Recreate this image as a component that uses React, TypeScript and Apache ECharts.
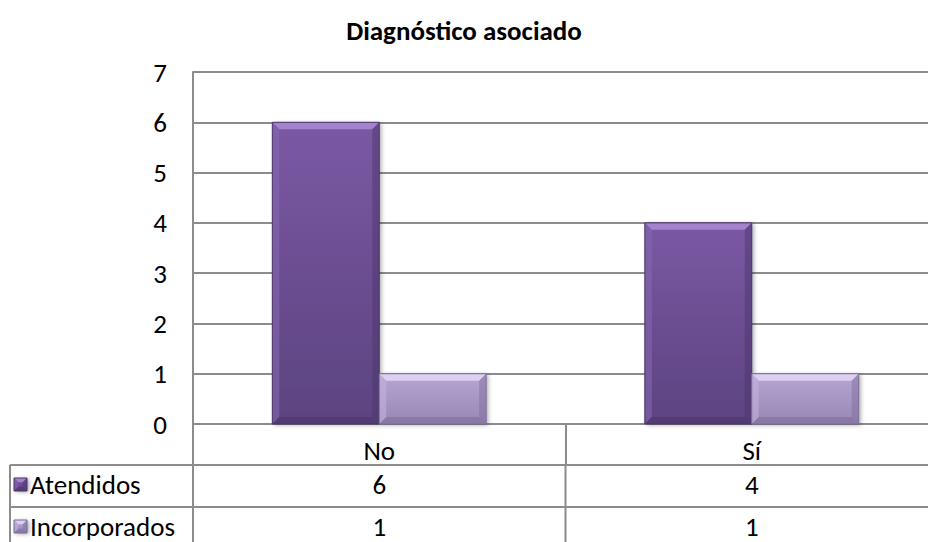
import React, { useEffect, useRef } from "react";
import * as echarts from "echarts";

const title = "Diagnóstico asociado";
const categories = ["No", "Sí"];
const seriesNames = ["Atendidos", "Incorporados"];
const atendidos = [6, 4];
const incorporados = [1, 1];
const yTicks = [0, 1, 2, 3, 4, 5, 6, 7];

const FONT = "Carlito, Calibri, Lato, sans-serif";
const FS = 27;
const W = 928;
const H = 542;
const GRID_LEFT = 193;
const GRID_TOP = 72;
const GRID_BOTTOM_Y = 424;
const GRID_RIGHT_X = 938;
const ROW1_Y = 465;
const ROW2_Y = 507;
const ROW3_Y = 549;
const TABLE_LEFT = 10;
const LINE = "#8c8c8c";

const BAR_FRAC = 0.287;
const BEVEL = 7;

type Palette = { top: string; bottom: string; hi: string; side: string; dark: string };
const palettes: Palette[] = [
  { top: "#7b58a4", bottom: "#5c4380", hi: "#a283cc", side: "#8666b0", dark: "#4a3568" },
  { top: "#b7a6d3", bottom: "#9886b4", hi: "#dccff0", side: "#c2b3dc", dark: "#7d6c98" },
];

function bevelBar(pal: Palette, x0: number, x1: number, top: number, base: number) {
  const b = Math.min(BEVEL, (base - top) / 3, (x1 - x0) / 3);
  const face = new echarts.graphic.LinearGradient(0, 0, 0, 1, [
    { offset: 0, color: pal.top },
    { offset: 1, color: pal.bottom },
  ]);
  return {
    type: "group",
    children: [
      {
        type: "rect",
        shape: { x: x0, y: top, width: x1 - x0, height: base - top },
        style: {
          fill: face,
          shadowColor: "rgba(0,0,0,0.35)",
          shadowBlur: 4,
          shadowOffsetX: 2,
          shadowOffsetY: 1,
        },
      },
      {
        type: "polygon",
        shape: { points: [[x0, top], [x1, top], [x1 - b, top + b], [x0 + b, top + b]] },
        style: { fill: pal.hi },
      },
      {
        type: "polygon",
        shape: { points: [[x0, top], [x0 + b, top + b], [x0 + b, base - b], [x0, base]] },
        style: { fill: pal.side, opacity: 0.6 },
      },
      {
        type: "polygon",
        shape: { points: [[x1, top], [x1, base], [x1 - b, base - b], [x1 - b, top + b]] },
        style: { fill: pal.dark, opacity: 0.45 },
      },
      {
        type: "polygon",
        shape: { points: [[x0, base], [x1, base], [x1 - b, base - b], [x0 + b, base - b]] },
        style: { fill: pal.dark, opacity: 0.55 },
      },
      {
        type: "rect",
        shape: { x: x0, y: top, width: x1 - x0, height: base - top },
        style: { fill: "none", stroke: pal.dark, lineWidth: 1 },
      },
    ],
  };
}

function makeRenderItem(seriesIdx: number) {
  return (params: any, api: any) => {
    const cat = api.value(0);
    const val = api.value(1);
    const [cx, top] = api.coord([cat, val]);
    const base = api.coord([cat, 0])[1];
    const bw = api.size([1, 0])[0] * BAR_FRAC;
    const x0 = seriesIdx === 0 ? cx - bw : cx;
    return bevelBar(palettes[seriesIdx], x0, x0 + bw, top, base);
  };
}

function marker(pal: Palette, x: number, y: number) {
  return bevelBar(pal, x, x + 13, y, y + 13);
}

export default function App() {
  const ref = useRef<HTMLDivElement>(null);

  useEffect(() => {
    if (!ref.current) return;
    const chart = echarts.init(ref.current, undefined, { renderer: "svg" });

    const colW = (GRID_RIGHT_X - GRID_LEFT) / categories.length;
    const rows = [
      { name: seriesNames[0], values: atendidos, pal: palettes[0], y0: ROW1_Y, y1: ROW2_Y },
      { name: seriesNames[1], values: incorporados, pal: palettes[1], y0: ROW2_Y, y1: ROW3_Y },
    ];

    const graphics: any[] = [];
    // data table rules
    [ROW1_Y, ROW2_Y].forEach((y) =>
      graphics.push({
        type: "line",
        shape: { x1: TABLE_LEFT, y1: y, x2: W + 10, y2: y },
        style: { stroke: LINE, lineWidth: 2 },
      })
    );
    graphics.push({
      type: "line",
      shape: { x1: TABLE_LEFT, y1: ROW1_Y, x2: TABLE_LEFT, y2: H + 10 },
      style: { stroke: LINE, lineWidth: 2 },
    });
    for (let i = 0; i < categories.length; i++) {
      const x = GRID_LEFT + colW * i;
      graphics.push({
        type: "line",
        shape: { x1: x, y1: ROW1_Y, x2: x, y2: H + 10 },
        style: { stroke: LINE, lineWidth: 2 },
      });
    }
    rows.forEach((r) => {
      const cy = (r.y0 + r.y1) / 2 - 2;
      graphics.push(marker(r.pal, 14, cy - 6));
      graphics.push({
        type: "text",
        x: 30,
        y: cy,
        style: {
          text: r.name,
          font: `${FS}px ${FONT}`,
          fill: "#000",
          textVerticalAlign: "middle",
          textAlign: "left",
        },
      });
      r.values.forEach((v, i) => {
        graphics.push({
          type: "text",
          x: GRID_LEFT + colW * (i + 0.5),
          y: cy,
          style: {
            text: String(v),
            font: `${FS}px ${FONT}`,
            fill: "#000",
            textAlign: "center",
            textVerticalAlign: "middle",
          },
        });
      });
    });

    chart.setOption({
      animation: false,
      backgroundColor: "#fff",
      title: {
        text: title,
        left: "center",
        top: 12,
        textStyle: { fontFamily: FONT, fontSize: FS, fontWeight: "bold", color: "#000" },
      },
      grid: {
        left: GRID_LEFT,
        top: GRID_TOP,
        width: GRID_RIGHT_X - GRID_LEFT,
        height: GRID_BOTTOM_Y - GRID_TOP,
        containLabel: false,
        outerBoundsMode: "none",
      },
      xAxis: {
        type: "category",
        data: categories,
        boundaryGap: true,
        axisLine: { show: true, lineStyle: { color: LINE, width: 2 } },
        axisTick: {
          show: true,
          alignWithLabel: false,
          length: ROW1_Y - GRID_BOTTOM_Y,
          lineStyle: { color: LINE, width: 2 },
        },
        axisLabel: {
          margin: 13,
          fontFamily: FONT,
          fontSize: FS,
          color: "#000",
        },
      },
      yAxis: {
        type: "value",
        min: yTicks[0],
        max: yTicks[yTicks.length - 1],
        interval: 1,
        axisLine: { show: true, lineStyle: { color: LINE, width: 2 } },
        axisTick: { show: false },
        splitLine: { show: true, lineStyle: { color: LINE, width: 2 } },
        axisLabel: {
          margin: 26,
          fontFamily: FONT,
          fontSize: FS,
          color: "#000",
        },
      },
      series: [
        {
          name: seriesNames[0],
          type: "custom",
          renderItem: makeRenderItem(0),
          data: atendidos.map((v, i) => [i, v]),
          encode: { x: 0, y: 1 },
        },
        {
          name: seriesNames[1],
          type: "custom",
          renderItem: makeRenderItem(1),
          data: incorporados.map((v, i) => [i, v]),
          encode: { x: 0, y: 1 },
        },
      ],
      graphic: graphics,
    });

    return () => chart.dispose();
  }, []);

  return (
    <div
      ref={ref}
      style={{ position: "fixed", left: 0, top: 0, width: W, height: H }}
    />
  );
}
